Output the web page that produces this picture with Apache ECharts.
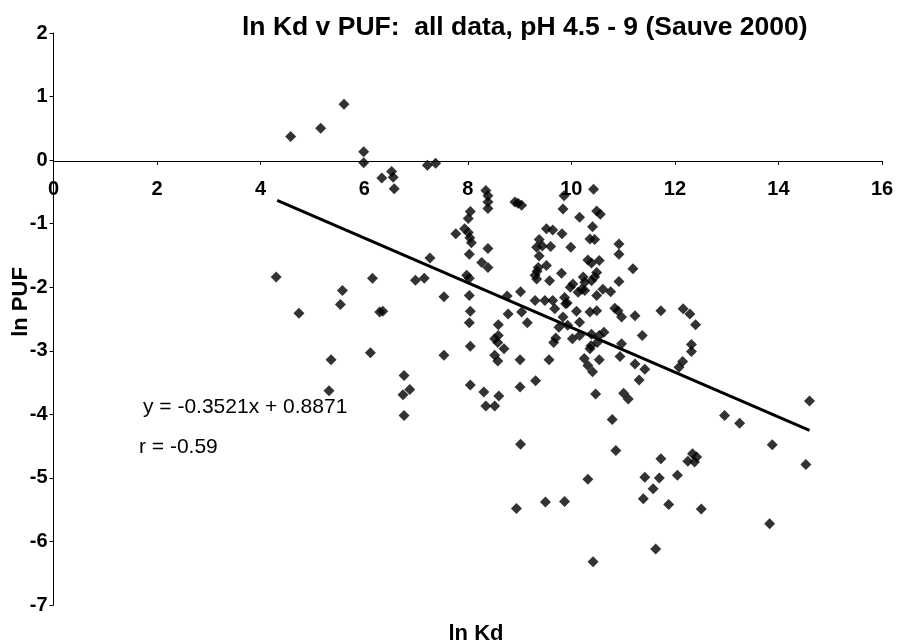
<!DOCTYPE html>
<html>
<head>
<meta charset="utf-8">
<title>ln Kd v PUF</title>
<script src="https://cdn.jsdelivr.net/npm/echarts@6/dist/echarts.min.js"></script>
<style>
  html, body { margin: 0; padding: 0; background: #fff; }
  #chart { width: 901px; height: 643px; }
</style>
</head>
<body>
<div id="chart"></div>
<script>
// ln Kd values (x) and ln PUF values (y), one entry per observation
const lnKd = [
  4.58, 5.16, 5.61, 5.99, 5.99, 6.34, 6.53, 6.56, 6.58, 7.22, 7.38,
  4.30, 4.74, 5.58, 5.54, 6.16, 6.30, 6.36, 6.99, 7.16, 7.27, 7.54,
  5.36, 6.12, 7.54, 6.77, 6.88, 6.75, 6.77, 5.32,
  8.35, 8.39, 8.39, 8.39, 8.91, 8.97, 9.04, 9.86, 10.43,
  8.05, 8.01, 7.94, 8.01, 8.04, 8.07, 7.77, 8.39, 8.03, 8.27, 8.39,
  7.98, 8.03, 8.03, 8.05, 8.03, 8.05, 8.76, 8.78, 8.59, 8.52, 8.58,
  9.02, 9.04, 9.15, 9.30, 9.49, 9.64, 9.68, 9.84, 9.76, 9.70, 9.66,
  9.84, 10.16, 10.49, 10.56, 10.41, 9.52, 9.64, 9.82, 10.36, 10.45,
  9.38, 9.33, 9.44, 9.60, 9.99, 9.38, 10.92, 10.92, 10.32, 10.54, 10.39,
  9.36, 9.52, 9.30, 9.33, 9.81, 9.58, 10.49, 10.45, 10.39, 10.23, 10.26,
  11.19, 10.92, 10.03, 9.98, 10.20, 10.13, 10.26, 10.61, 10.76, 10.49,
  9.87, 9.89, 9.92, 10.10, 10.16, 10.36, 10.49, 10.84, 10.90, 11.23,
  11.37, 10.02, 10.16, 10.39, 10.54, 10.63, 10.97, 10.50, 8.59,
  8.52, 8.58, 8.70, 9.01, 9.57, 10.38, 10.36, 10.97, 10.25, 10.54,
  10.32, 10.41, 10.94, 11.23, 11.42, 11.31, 8.05, 8.31, 8.35, 8.52,
  8.60, 9.01, 9.31, 10.47, 11.01, 11.10, 10.79, 9.02, 10.86, 10.32,
  11.42, 11.73, 12.16, 12.29, 12.40, 12.32, 12.32, 12.15, 12.08,
  12.96, 13.25, 14.60, 13.88, 14.53, 11.73, 12.34, 12.42, 12.25, 12.38,
  12.05, 11.70, 11.58, 11.39, 11.88, 12.51, 8.94, 9.50, 9.87, 13.83,
  11.63, 10.42, 9.34, 9.93
];
const lnPUF = [
  0.37, 0.50, 0.88, 0.13, -0.04, -0.28, -0.18, -0.27, -0.45, -0.08, -0.05,
  -1.84, -2.41, -2.05, -2.27, -1.86, -2.39, -2.38, -1.89, -1.86, -1.54, -2.15,
  -3.14, -3.03, -3.07, -3.39, -3.61, -3.69, -4.02, -3.63,
  -0.48, -0.56, -0.66, -0.76, -0.66, -0.68, -0.71, -0.56, -0.46,
  -0.81, -0.92, -1.08, -1.14, -1.22, -1.30, -1.16, -1.39, -1.48, -1.61, -1.69,
  -1.81, -1.86, -2.13, -2.38, -2.56, -2.93, -2.14, -2.42, -2.59, -2.81, -2.87,
  -2.07, -2.39, -2.56, -2.21, -2.21, -2.21, -2.34, -2.47, -2.63, -2.80, -2.87,
  -0.77, -0.90, -0.80, -0.85, -1.05, -1.08, -1.10, -1.16, -1.24, -1.25,
  -1.25, -1.37, -1.35, -1.36, -1.37, -1.51, -1.32, -1.48, -1.57, -1.58, -1.62,
  -1.69, -1.66, -1.81, -1.87, -1.78, -1.90, -1.77, -1.84, -1.90, -1.84, -1.92,
  -1.71, -1.91, -1.95, -2.00, -2.03, -2.08, -2.05, -2.03, -2.07, -2.13,
  -2.16, -2.26, -2.25, -2.38, -2.55, -2.39, -2.37, -2.33, -2.37, -2.45,
  -2.76, -2.81, -2.76, -2.74, -2.76, -2.71, -2.89, -2.87, -2.76,
  -3.07, -3.16, -2.97, -3.14, -3.14, -2.92, -2.97, -2.47, -3.12, -3.14,
  -3.23, -3.33, -3.09, -3.21, -3.29, -3.46, -3.54, -3.65, -3.87, -3.87,
  -3.71, -3.57, -3.47, -3.68, -3.67, -3.76, -4.08, -4.47, -4.57, -5.02,
  -4.99, -2.37, -2.34, -2.42, -2.59, -2.90, -3.01, -3.17, -3.26,
  -4.02, -4.14, -3.79, -4.48, -4.79, -4.70, -4.62, -4.67, -4.74, -4.75,
  -4.96, -5.00, -5.17, -5.33, -5.42, -5.49, -5.48, -5.38, -5.37, -5.72,
  -6.12, -6.32, -1.75, -2.60
];

// Least-squares fit reported on the chart
const fitSlope = -0.3521;
const fitIntercept = 0.8871;
const fitXRange = [4.32, 14.6];

// Axis tick labels
const xTicks = [0, 2, 4, 6, 8, 10, 12, 14, 16];
const yTicks = [-7, -6, -5, -4, -3, -2, -1, 0, 1, 2];

const points = lnKd.map((x, i) => [x, lnPUF[i]]);
const fitLine = fitXRange.map(x => [x, fitSlope * x + fitIntercept]);

const FONT = '"Liberation Sans", Arial, sans-serif';

const chart = echarts.init(document.getElementById('chart'), null, { renderer: 'canvas' });

chart.setOption({
  animation: false,
  backgroundColor: '#ffffff',
  title: {
    text: 'ln Kd v PUF:  all data, pH 4.5 - 9 (Sauve 2000)',
    left: 237,
    top: 9,
    textStyle: { fontFamily: FONT, fontWeight: 'bold', fontSize: 26.5, color: '#000' }
  },
  grid: { left: 53.5, right: 19, top: 33, bottom: 38, containLabel: false },
  xAxis: {
    type: 'value',
    min: xTicks[0],
    max: xTicks[xTicks.length - 1],
    interval: 2,
    splitLine: { show: false },
    axisLine: { onZero: false, lineStyle: { color: '#000', width: 1 } },
    axisTick: { show: true, length: 4, lineStyle: { color: '#000' } },
    axisLabel: { margin: 19, fontFamily: FONT, fontWeight: 'bold', fontSize: 20, color: '#000' }
  },
  yAxis: {
    type: 'value',
    min: yTicks[0],
    max: yTicks[yTicks.length - 1],
    interval: 1,
    splitLine: { show: false },
    axisLine: { onZero: false, lineStyle: { color: '#000', width: 1 } },
    axisTick: { show: true, length: 4, lineStyle: { color: '#000' } },
    axisLabel: { margin: 6, fontFamily: FONT, fontWeight: 'bold', fontSize: 20, color: '#000' }
  },
  graphic: [
    {
      type: 'text', x: 476, y: 634,
      style: { text: 'ln Kd', font: 'bold 22px ' + FONT, fill: '#000', align: 'center', verticalAlign: 'middle' }
    },
    {
      type: 'text', x: 21, y: 302, rotation: Math.PI / 2,
      style: { text: 'ln PUF', font: 'bold 22px ' + FONT, fill: '#000', align: 'center', verticalAlign: 'middle' }
    },
    {
      type: 'text', x: 143, y: 407,
      style: { text: 'y = -0.3521x + 0.8871', font: '21px ' + FONT, fill: '#000', verticalAlign: 'middle' }
    },
    {
      type: 'text', x: 139, y: 447,
      style: { text: 'r = -0.59', font: '21px ' + FONT, fill: '#000', verticalAlign: 'middle' }
    }
  ],
  series: [
    {
      type: 'scatter',
      data: points,
      symbol: 'diamond',
      symbolSize: 11,
      itemStyle: { color: '#000' },
      z: 3
    },
    {
      type: 'line',
      data: fitLine,
      showSymbol: false,
      lineStyle: { color: '#000', width: 3 },
      z: 2
    }
  ]
});

// Lift the x axis (line, ticks and labels) up to where ln PUF = 0
const yZero = chart.convertToPixel({ yAxisIndex: 0 }, 0);
const yBottom = chart.convertToPixel({ yAxisIndex: 0 }, yTicks[0]);
chart.setOption({ xAxis: { offset: yZero - yBottom } });
</script>
</body>
</html>
